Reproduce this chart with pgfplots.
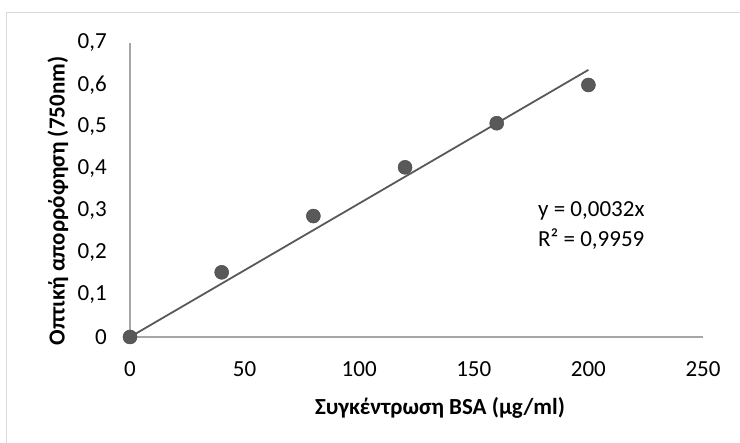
\documentclass[border=0pt]{standalone}
\usepackage{fontspec}
\setmainfont{Carlito}
\usepackage{pgfplots}
\pgfplotsset{compat=1.18}
\definecolor{mk}{HTML}{595959}
\definecolor{tl}{HTML}{595959}
\definecolor{ax}{HTML}{A6A6A6}
\definecolor{bord}{HTML}{D9D9D9}
\newcommand{\fs}{\fontsize{23bp}{28bp}\selectfont}
\begin{document}
\begin{tikzpicture}[x=1bp,y=1bp]
\path[use as bounding box] (0,0) rectangle (740,443);
\draw[color=bord, line width=1.3bp] (6.7,0) -- (6.7,430.7) -- (741,430.7);
\begin{axis}[
  at={(130bp,106bp)}, anchor=south west,
  scale only axis, width=573bp, height=294bp,
  xmin=0, xmax=250, ymin=0, ymax=0.7,
  axis x line=bottom, axis y line=left,
  axis line style={-, color=ax, line width=1.5bp},
  xtick={0,50,...,250}, ytick={0,0.1,...,0.7},
  major tick length=0pt,
  clip=false,
  tick label style={font=\fs},
  /pgf/number format/assume math mode=true,
  /pgf/number format/use comma,
  yticklabel style={/pgf/number format/fixed, /pgf/number format/precision=1, anchor=east, inner sep=0pt, xshift=-23bp},
  xticklabel style={anchor=north, inner sep=0pt, yshift=-24bp},
]
\addplot[color=tl, line width=1.8bp] coordinates {(0,0) (200,0.636)};
\addplot[only marks, mark=*, mark size=7bp, mark options={fill=mk, draw=mk!85!black, line width=0.5bp}] coordinates {
(0,0) (40,0.154) (80,0.288) (120,0.404) (160,0.509) (200,0.600)};
\end{axis}
\node[font=\fs\bfseries, anchor=center] at (440,35) {Συγκέντρωση BSA (μg/ml)};
\node[font=\fs\bfseries, anchor=center, rotate=90] at (58,242) {Οπτική απορρόφηση (750nm)};
\node[font=\fs, anchor=west, inner sep=0pt, align=left] at (538,217) {y = 0,0032x\\[2bp]R² = 0,9959};
\end{tikzpicture}
\end{document}
